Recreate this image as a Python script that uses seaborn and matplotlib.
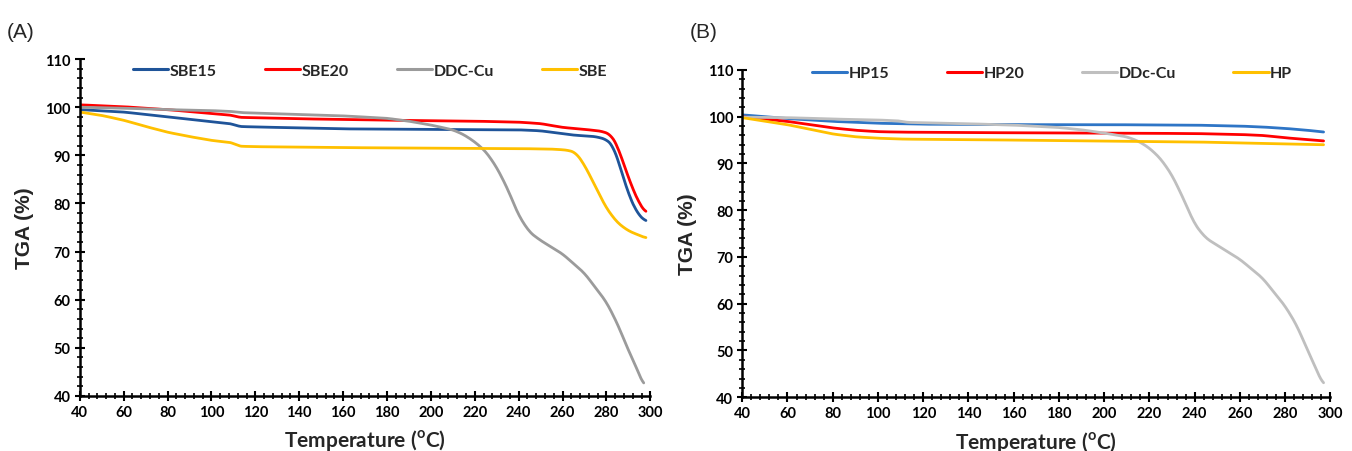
import numpy as np
import pandas as pd
import matplotlib
matplotlib.use('Agg')
import matplotlib.pyplot as plt
from matplotlib.ticker import MultipleLocator
import seaborn as sns

sns.set_style('ticks')
plt.rcParams['font.family'] = ['Lato', 'DejaVu Sans']
plt.rcParams['font.weight'] = 'bold'

# ---- panel A data ----
sbe15_x = [40, 60, 80, 100, 110, 112, 120, 140, 160, 200, 240, 250, 260, 265, 275, 280, 283, 286, 290, 294, 298]
sbe15_y = [99.5, 99.0, 98.0, 97.0, 96.5, 96.0, 95.9, 95.7, 95.5, 95.4, 95.3, 95.1, 94.5, 94.2, 93.9, 93.3, 92.0, 88.0, 82.0, 78.0, 76.2]
sbe20_x = [40, 60, 80, 100, 110, 112, 140, 180, 220, 240, 250, 260, 270, 278, 282, 285, 288, 292, 295, 298]
sbe20_y = [100.5, 100.1, 99.5, 98.7, 98.3, 97.9, 97.6, 97.3, 97.1, 96.9, 96.6, 95.8, 95.4, 95.0, 94.3, 92.0, 88.0, 83.0, 80.0, 78.0]
ddc_a_x = [40, 60, 80, 100, 110, 112, 140, 160, 180, 190, 200, 210, 215, 220, 225, 230, 235, 240, 245, 250, 260, 270, 280, 285, 290, 295, 297]
ddc_a_y = [100.0, 99.8, 99.5, 99.3, 99.1, 98.9, 98.5, 98.2, 97.7, 97.1, 96.3, 95.3, 94.3, 92.8, 90.8, 87.5, 83.0, 77.5, 74.0, 72.3, 69.5, 65.5, 59.5, 55.0, 49.5, 44.5, 42.0]
sbe_x = [40, 50, 60, 70, 80, 90, 100, 110, 112, 120, 160, 200, 240, 255, 262, 266, 270, 275, 280, 285, 290, 298]
sbe_y = [99.0, 98.3, 97.3, 96.0, 94.8, 93.9, 93.1, 92.6, 91.9, 91.8, 91.6, 91.5, 91.4, 91.3, 91.1, 90.6, 88.0, 83.5, 79.0, 76.0, 74.3, 72.8]

# ---- panel B data ----
hp15_x = [40, 60, 80, 100, 120, 160, 200, 240, 260, 270, 280, 290, 297]
hp15_y = [100.4, 99.6, 99.0, 98.6, 98.4, 98.3, 98.3, 98.2, 98.0, 97.8, 97.5, 97.1, 96.7]
hp20_x = [40, 60, 80, 90, 100, 110, 140, 200, 240, 260, 270, 280, 297]
hp20_y = [100.0, 99.0, 97.6, 97.1, 96.8, 96.7, 96.6, 96.5, 96.4, 96.2, 96.0, 95.5, 94.8]
ddc_b_x = [40, 60, 80, 100, 110, 112, 140, 160, 180, 190, 200, 210, 215, 220, 225, 230, 235, 240, 245, 250, 260, 270, 280, 285, 290, 297]
ddc_b_y = [99.9, 99.8, 99.5, 99.3, 99.1, 98.8, 98.5, 98.2, 97.7, 97.2, 96.5, 95.7, 94.8, 93.3, 91.0, 87.5, 82.5, 77.0, 74.0, 72.5, 69.5, 65.5, 59.5, 55.5, 50.0, 42.5]
hp_x = [40, 60, 80, 90, 100, 112, 140, 200, 240, 260, 280, 297]
hp_y = [99.8, 98.3, 96.3, 95.7, 95.4, 95.2, 95.1, 94.8, 94.6, 94.4, 94.2, 94.0]

names_a = ['SBE15', 'SBE20', 'DDC-Cu', 'SBE']
colors_a = ['#1F5499', '#FF0000', '#9B9B9B', '#FFC000']
names_b = ['HP15', 'HP20', 'DDc-Cu', 'HP']
colors_b = ['#2E75C6', '#FF0000', '#BFBFBF', '#FFC000']


def smooth(x, y):
    # dense curve through the read points, lightly smoothed
    xs = np.linspace(min(x), max(x), 400)
    ys = np.interp(xs, x, y)
    k = 7
    pad = np.pad(ys, k // 2, mode='edge')
    ys = np.convolve(pad, np.ones(k) / k, mode='valid')
    return xs, ys


def make_df(series, names):
    frames = []
    for (x, y), n in zip(series, names):
        xs, ys = smooth(x, y)
        frames.append(pd.DataFrame({'Temperature': xs, 'TGA': ys, 'Sample': n}))
    return pd.concat(frames, ignore_index=True)


df_a = make_df([(sbe15_x, sbe15_y), (sbe20_x, sbe20_y), (ddc_a_x, ddc_a_y), (sbe_x, sbe_y)], names_a)
df_b = make_df([(hp15_x, hp15_y), (hp20_x, hp20_y), (ddc_b_x, ddc_b_y), (hp_x, hp_y)], names_b)

fig = plt.figure(figsize=(13.52, 4.52), dpi=100)
ax_a = fig.add_axes([0.059, 0.122, 0.422, 0.745])
ax_b = fig.add_axes([0.549, 0.119, 0.435, 0.724])


def style_axis(ax, df, names, colors, col_space, leg_x, leg_y):
    sns.lineplot(data=df, x='Temperature', y='TGA', hue='Sample', hue_order=names,
                 palette=colors, linewidth=2, ax=ax, sort=False)
    ax.set_xlim(40, 300)
    ax.set_ylim(40, 110)
    ax.xaxis.set_major_locator(MultipleLocator(20))
    ax.xaxis.set_minor_locator(MultipleLocator(4))
    ax.yaxis.set_major_locator(MultipleLocator(10))
    ax.yaxis.set_minor_locator(MultipleLocator(2))
    for s in ['top', 'right']:
        ax.spines[s].set_visible(False)
    for s in ['left', 'bottom']:
        ax.spines[s].set_color('black')
        ax.spines[s].set_linewidth(1.8)
    ax.tick_params(which='major', direction='inout', length=7, width=1.5, labelsize=10.5, pad=3,
                   colors='black')
    ax.tick_params(which='minor', direction='inout', length=4, width=1.2, colors='black')
    ax.set_xlabel('Temperature ($^{\\mathregular{o}}$C)', fontsize=15, fontweight='bold', labelpad=6)
    ax.set_ylabel('TGA (%)', fontsize=15, fontweight='bold', family=['Liberation Sans'], labelpad=8)
    leg = ax.legend(ncol=4, loc='center', bbox_to_anchor=(leg_x, leg_y), frameon=False,
                    handlelength=2.2, handletextpad=0.1, columnspacing=col_space,
                    prop={'weight': 'bold', 'size': 11.5})
    for h in leg.get_lines():
        h.set_linewidth(2.2)


style_axis(ax_a, df_a, names_a, colors_a, 3.0, 0.509, 0.965)
style_axis(ax_b, df_b, names_b, colors_b, 3.6, 0.527, 0.99)

fig.text(0.005, 0.915, '(A)', fontsize=15, fontweight='normal', family=['Liberation Sans'])
fig.text(0.51, 0.915, '(B)', fontsize=15, fontweight='normal', family=['Liberation Sans'])

fig.savefig('out.png', dpi=100)
